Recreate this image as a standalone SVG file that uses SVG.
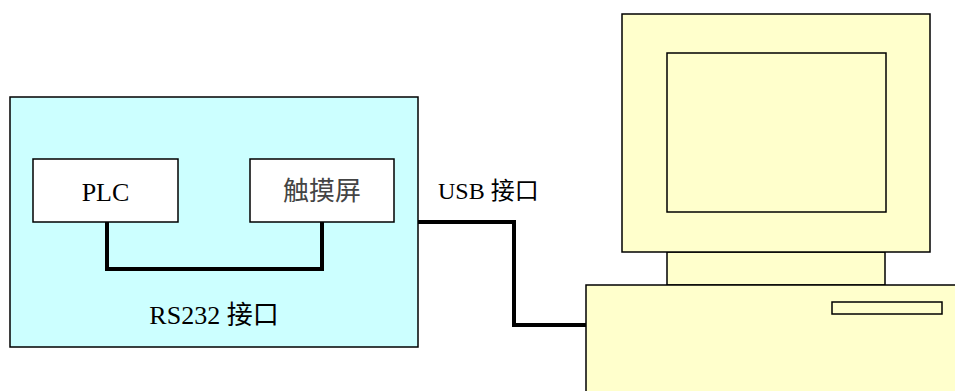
<svg xmlns="http://www.w3.org/2000/svg" width="955" height="391" viewBox="0 0 955 391">
  <style>
    .box { stroke: #000; stroke-width: 1.5; }
    .cyan { fill: #ccffff; }
    .white { fill: #ffffff; }
    .yellow { fill: #ffffcc; }
    .wire { fill: none; stroke: #000; stroke-width: 4; stroke-linejoin: miter; }
    .lbl { font-family: "Liberation Serif", "Noto Sans CJK SC", serif; fill: #000; }
  </style>
  <rect width="955" height="391" fill="#ffffff"/>

  <!-- Control cabinet enclosure -->
  <g id="cabinet">
    <rect class="box cyan" x="10" y="97" width="408" height="250"/>
    <text class="lbl" x="214" y="324" font-size="26" text-anchor="middle">RS232 接口</text>
  </g>

  <g id="plc">
    <rect class="box white" x="33" y="159" width="145" height="63"/>
    <text class="lbl" x="105.5" y="201" font-size="26" text-anchor="middle">PLC</text>
  </g>

  <g id="touchscreen">
    <rect class="box white" x="250" y="159" width="144" height="63"/>
    <text class="lbl" x="322" y="200" font-size="26" text-anchor="middle" style="fill:#444">触摸屏</text>
  </g>

  <!-- Desktop computer -->
  <g id="computer">
    <rect class="box yellow" x="667" y="252" width="218" height="33"/>
    <rect class="box yellow" x="586" y="285" width="375" height="110"/>
    <rect class="box yellow" x="832" y="302" width="110" height="12"/>
    <rect class="box yellow" x="622" y="14" width="308" height="238"/>
    <rect class="box yellow" x="667" y="53" width="219" height="159"/>
  </g>

  <g id="usb-label">
    <text class="lbl" x="438" y="199" font-size="24">USB 接口</text>
  </g>

  <!-- Cables -->
  <g id="connectors">
    <polyline class="wire" points="107,222 107,269 322,269 322,222"/>
    <polyline class="wire" points="418,222 514,222 514,325 586,325"/>
  </g>
</svg>
